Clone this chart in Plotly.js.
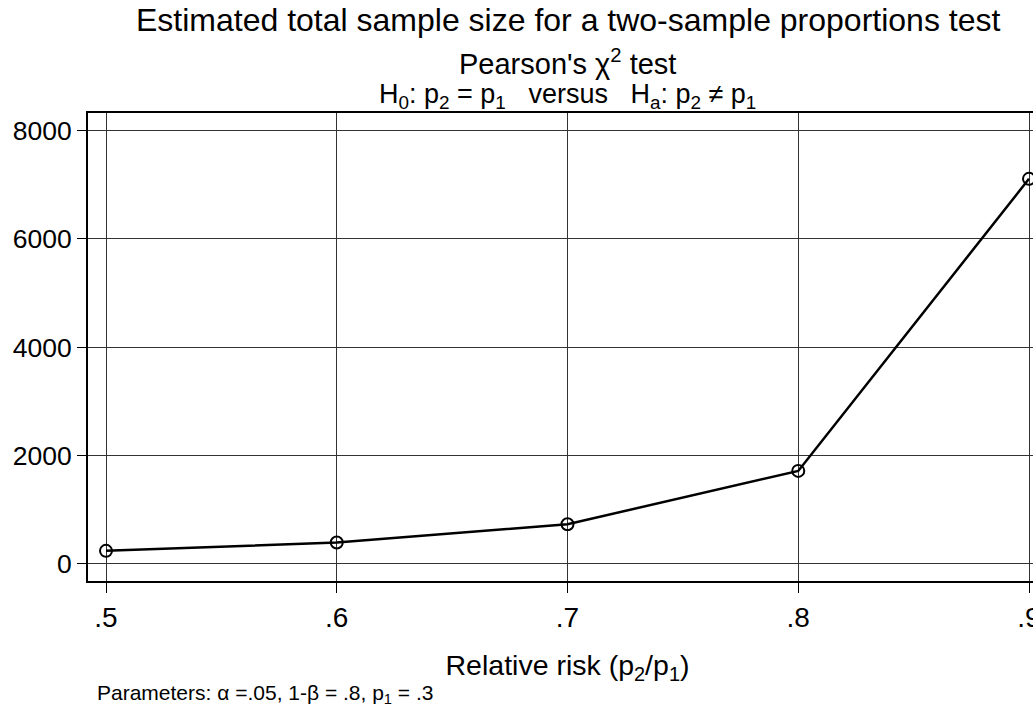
<!DOCTYPE html>
<html>
<head>
<meta charset="utf-8">
<script src="https://cdn.plot.ly/plotly-3.0.1.min.js"></script>
<style>
html,body{margin:0;padding:0;overflow:hidden;background:#fff;width:1033px;height:705px;}
#chart{width:1050px;height:705px;}
</style>
</head>
<body>
<div id="chart"></div>
<script>
// Data
const relativeRisk = [0.5, 0.6, 0.7, 0.8, 0.9];
const totalSampleSize = [242, 396, 734, 1718, 7108];
const xTickVals = [0.5, 0.6, 0.7, 0.8, 0.9];
const xTickText = ['.5', '.6', '.7', '.8', '.9'];
const yTickVals = [0, 2000, 4000, 6000, 8000];
const yTickText = ['0', '2000', '4000', '6000', '8000'];

const FONT = 'Liberation Sans, Arial, Helvetica, sans-serif';
const W = 1050, H = 705;
const L = 88, R = W - 1047, T = 113, B = H - 581;
const plotH = H - T - B;
// convert a pixel row of the page into paper coordinates
function py(y) { return (H - B - y) / plotH; }

const trace = {
  x: relativeRisk,
  y: totalSampleSize,
  type: 'scatter',
  mode: 'lines+markers',
  line: {color: '#000', width: 2.5},
  marker: {symbol: 'circle-open', size: 12, color: '#000', line: {color: '#000', width: 2}},
  cliponaxis: false,
  hoverinfo: 'skip'
};

const NB = '\u00a0';
const layout = {
  width: W, height: H,
  margin: {l: L, r: R, t: T, b: B},
  paper_bgcolor: '#fff', plot_bgcolor: '#fff',
  showlegend: false,
  font: {family: FONT, color: '#000'},
  xaxis: {
    range: [0.4922, 0.9078],
    tickvals: xTickVals, ticktext: xTickText,
    ticks: 'outside', ticklen: 10, tickcolor: '#000', tickwidth: 1,
    tickfont: {family: FONT, size: 28, color: '#000'},
    showgrid: true, gridcolor: '#333', gridwidth: 1,
    zeroline: false,
    showline: true, linecolor: '#000', linewidth: 2, mirror: true,
    title: {text: 'Relative risk (p<sub>2</sub>/p<sub>1</sub>)', font: {family: FONT, size: 28.5, color: '#000'}, standoff: 23}
  },
  yaxis: {
    range: [-314, 8323],
    tickvals: yTickVals, ticktext: yTickText,
    ticks: 'outside', ticklen: 9, tickcolor: '#000', tickwidth: 1,
    tickfont: {family: FONT, size: 26.5, color: '#000'},
    showgrid: true, gridcolor: '#333', gridwidth: 1,
    zeroline: false,
    showline: true, linecolor: '#000', linewidth: 2, mirror: true
  },
  annotations: [
    {
      text: 'Estimated total sample size for a two-sample proportions test',
      xref: 'paper', yref: 'paper', x: 0.5, y: py(20),
      xanchor: 'center', yanchor: 'middle', showarrow: false,
      font: {family: FONT, size: 32, color: '#000'}
    },
    {
      text: 'Pearson\'s χ<sup>2</sup> test',
      xref: 'paper', yref: 'paper', x: 0.5, y: py(62),
      xanchor: 'center', yanchor: 'middle', showarrow: false,
      font: {family: FONT, size: 29, color: '#000'}
    },
    {
      text: 'H<sub>0</sub>: p<sub>2</sub> = p<sub>1</sub>' + NB + NB + NB + 'versus' + NB + NB + NB + 'H<sub>a</sub>: p<sub>2</sub> ≠ p<sub>1</sub>',
      xref: 'paper', yref: 'paper', x: 0.5, y: py(96),
      xanchor: 'center', yanchor: 'middle', showarrow: false,
      font: {family: FONT, size: 27, color: '#000'}
    },
    {
      text: 'Parameters: α =.05, 1-β = .8, p<sub>1</sub> = .3',
      xref: 'paper', yref: 'paper', x: (95 - L) / (W - L - R), y: py(694),
      xanchor: 'left', yanchor: 'middle', showarrow: false,
      font: {family: FONT, size: 21, color: '#000'}
    }
  ]
};

Plotly.newPlot('chart', [trace], layout, {staticPlot: true, displayModeBar: false});
</script>
</body>
</html>
